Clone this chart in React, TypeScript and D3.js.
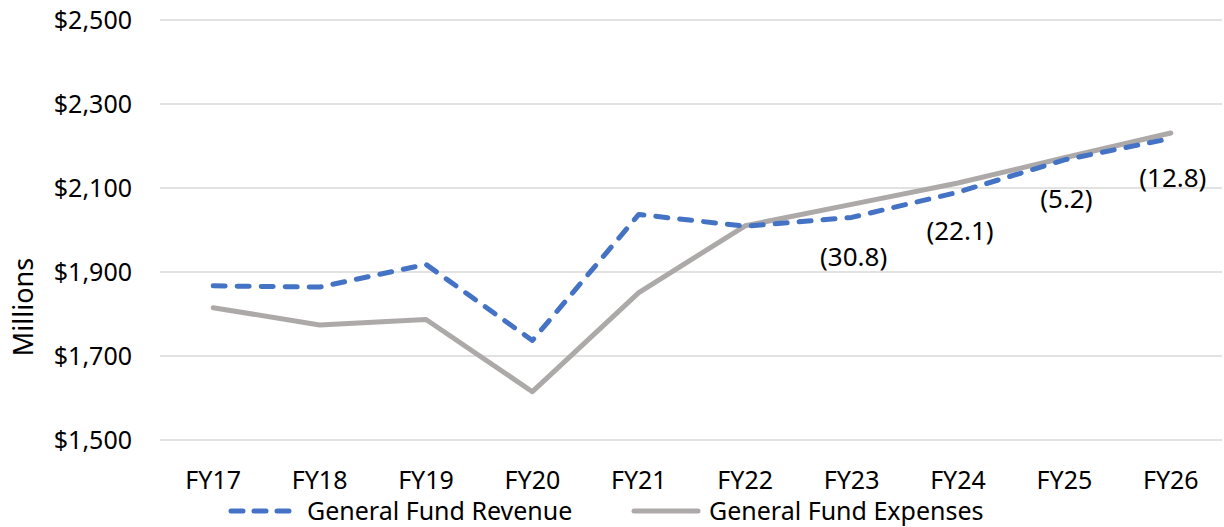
import React from "react"
import * as d3 from "d3"

const years = ["FY17", "FY18", "FY19", "FY20", "FY21", "FY22", "FY23", "FY24", "FY25", "FY26"]
const revenue = [1867, 1864, 1918, 1737, 2037, 2009, 2030, 2090, 2167, 2218]
const expenses = [1815, 1774, 1787, 1615, 1851, 2010, 2061, 2112, 2172, 2231]
const gapLabels = [null, null, null, null, null, null, "(30.8)", "(22.1)", "(5.2)", "(12.8)"]
const yTicks = [1500, 1700, 1900, 2100, 2300, 2500]

const W = 1224, H = 527
const font = "'Noto Sans', sans-serif"

export default function App() {
  var x = d3.scaleBand().domain(years).range([160, 1224])
  var y = d3.scaleLinear().domain([1500, 2500]).range([440, 20])
  var cx = (d: string) => x(d)! + x.bandwidth() / 2

  var line = d3.line<number>()
    .x((d, i) => cx(years[i]))
    .y(d => y(d))

  var fmt = d3.format("$,")

  return (
    <svg width={W} height={H} style={{ position: "absolute", left: 0, top: 0, background: "#fff" }}>
      {yTicks.map(t => (
        <g key={t}>
          <line x1={160} x2={1222} y1={y(t)} y2={y(t)} stroke="#d9d9d9" strokeWidth={1.3} />
          <text x={132} y={y(t)} dy="0.35em" textAnchor="end" fontFamily={font} fontSize={25} fill="#000">{fmt(t)}</text>
        </g>
      ))}
      <text transform="translate(24,307) rotate(-90)" textAnchor="middle" dy="0.35em" fontFamily={font} fontSize={27} fill="#000">Millions</text>

      {years.map(d => (
        <text key={d} x={cx(d)} y={480} dy="0.35em" textAnchor="middle" fontFamily={font} fontSize={25} fill="#000">{d}</text>
      ))}

      <path d={line(expenses)!} fill="none" stroke="#ADA9A9" strokeWidth={5} strokeLinejoin="round" strokeLinecap="round" />
      <path d={line(revenue)!} fill="none" stroke="#4472C4" strokeWidth={5} strokeDasharray="12 12" strokeLinejoin="round" strokeLinecap="round" />

      {gapLabels.map((l, i) => l && (
        <text key={i} x={cx(years[i]) + 2} y={y(revenue[i]) + 39} dy="0.35em" textAnchor="middle" fontFamily={font} fontSize={26} fill="#000">{l}</text>
      ))}

      <line x1={231} x2={289} y1={511} y2={511} stroke="#4472C4" strokeWidth={5} strokeDasharray="12 11" strokeLinecap="round" />
      <text x={307} y={511} dy="0.35em" fontFamily={font} fontSize={25} fill="#000">General Fund Revenue</text>
      <line x1={634} x2={698} y1={511} y2={511} stroke="#ADA9A9" strokeWidth={5} strokeLinecap="round" />
      <text x={709} y={511} dy="0.35em" fontFamily={font} fontSize={25} fill="#000">General Fund Expenses</text>
    </svg>
  )
}
